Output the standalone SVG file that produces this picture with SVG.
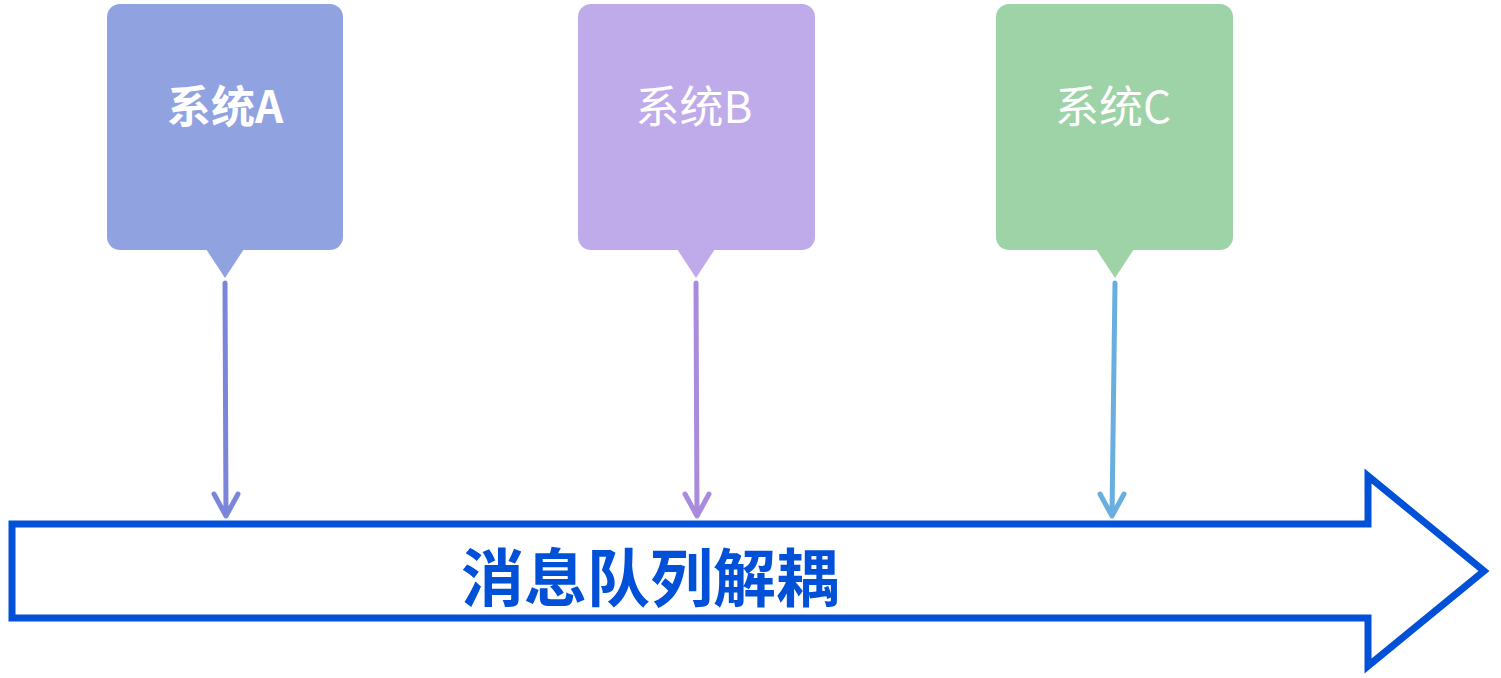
<svg xmlns="http://www.w3.org/2000/svg" width="1501" height="678" viewBox="0 0 1501 678">
<defs>
<style>
.lbl{font-family:"Noto Sans CJK SC","Noto Sans",sans-serif;font-size:44px;fill:#ffffff;text-anchor:middle}
.conn{fill:none;stroke-width:5;stroke-linecap:round;stroke-linejoin:round}
</style>
</defs>
<rect width="1501" height="678" fill="#ffffff"/>
<g id="nodeA">
<rect x="107" y="4" width="236" height="246" rx="13" fill="#91a2e1"/>
<polygon points="206,249 244,249 225,278" fill="#91a2e1"/>
<text class="lbl" x="225" y="123" font-weight="bold">系统A</text>
</g>
<g id="nodeB">
<rect x="578" y="4" width="237" height="246" rx="13" fill="#c0abea"/>
<polygon points="677,249 715,249 696,278" fill="#c0abea"/>
<text class="lbl" x="694" y="123">系统B</text>
</g>
<g id="nodeC">
<rect x="996" y="4" width="237" height="246" rx="13" fill="#9ed2a7"/>
<polygon points="1096,249 1134,249 1115,278" fill="#9ed2a7"/>
<text class="lbl" x="1113" y="123">系统C</text>
</g>
<g id="queue">
<path d="M12,524 L1368,524 L1368,476 L1484,571 L1368,666 L1368,618 L12,618 Z" fill="#ffffff" stroke="#0050d8" stroke-width="7" stroke-linejoin="miter"/>
<text x="650" y="601" font-family="Noto Sans CJK SC,sans-serif" font-size="63" font-weight="bold" fill="#0050d8" text-anchor="middle">消息队列解耦</text>
</g>
<g id="connectors">
<path class="conn" stroke="#7b86db" d="M225,283 L226,516 M214,494 L226,516 L238,494"/>
<path class="conn" stroke="#a98bdc" d="M696,283 L697,516 M685,494 L697,516 L709,494"/>
<path class="conn" stroke="#6aaee0" d="M1115,283 L1112,516 M1100,494 L1112,516 L1124,494"/>
</g>
</svg>
